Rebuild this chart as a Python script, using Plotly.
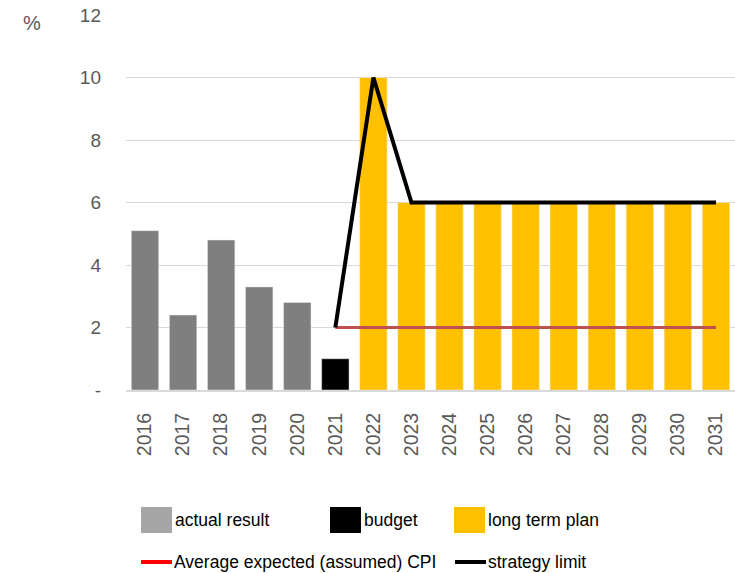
import plotly.graph_objects as go

years = [str(y) for y in range(2016, 2032)]
actual_years = ["2016", "2017", "2018", "2019", "2020"]
actual_values = [5.1, 2.4, 4.8, 3.3, 2.8]
budget_years = ["2021"]
budget_values = [1.0]
plan_years = [str(y) for y in range(2022, 2032)]
plan_values = [10, 6, 6, 6, 6, 6, 6, 6, 6, 6]
cpi_years = [str(y) for y in range(2021, 2032)]
cpi_values = [2] * 11
limit_years = [str(y) for y in range(2021, 2032)]
limit_values = [2, 10, 6, 6, 6, 6, 6, 6, 6, 6, 6]
y_ticks = [0, 2, 4, 6, 8, 10, 12]
y_tick_labels = ["-", "2", "4", "6", "8", "10", "12"]

W, H = 735, 573
ML, MR, MT, MB = 126, 0, 15, 183

fig = go.Figure()
fig.add_trace(go.Bar(x=actual_years, y=actual_values, marker_color="#7F7F7F",
                     width=0.72, name="actual result"))
fig.add_trace(go.Bar(x=budget_years, y=budget_values, marker_color="#000000",
                     width=0.72, name="budget"))
fig.add_trace(go.Bar(x=plan_years, y=plan_values, marker_color="#FFC000",
                     width=0.72, name="long term plan"))
fig.add_trace(go.Scatter(x=cpi_years, y=cpi_values, mode="lines",
                         line=dict(color="#C0504D", width=3),
                         name="Average expected (assumed) CPI"))
fig.add_trace(go.Scatter(x=limit_years, y=limit_values, mode="lines",
                         line=dict(color="#000000", width=4),
                         name="strategy limit"))

fig.update_layout(
    width=W, height=H,
    margin=dict(l=ML, r=MR, t=MT, b=MB),
    plot_bgcolor="white", paper_bgcolor="white",
    showlegend=False, barmode="overlay",
    font=dict(family="Liberation Sans, Arial, sans-serif", size=19, color="#595959"),
    xaxis=dict(type="category", categoryorder="array", categoryarray=years,
               tickangle=-90, showgrid=False, showline=True,
               linecolor="#D9D9D9", linewidth=2, ticks="",
               ticklabelstandoff=13,
               tickfont=dict(size=19.5, color="#595959")),
    yaxis=dict(range=[0, 12], tickvals=y_ticks, ticktext=y_tick_labels,
               showgrid=True, gridcolor="#D9D9D9", gridwidth=1.2,
               zeroline=False, ticks="", ticklabelstandoff=24,
               tickfont=dict(size=19, color="#595959")),
)

def px_x(px):
    return (px - ML) / (W - ML - MR)

def px_y(py):
    return (H - MB - py) / (H - MB - MT)

fig.add_annotation(text="%", xref="paper", yref="paper", x=px_x(32), y=px_y(23),
                   xanchor="center", yanchor="middle", showarrow=False,
                   font=dict(size=20, color="#595959"))

# Custom legend below the chart
legend_font = dict(size=17.5, color="#000000", family="Liberation Sans, Arial, sans-serif")

box_items = [(141, "#A6A6A6", "actual result"),
             (330, "#000000", "budget"),
             (454, "#FFC000", "long term plan")]
for x0, color, label in box_items:
    fig.add_shape(type="rect", xref="paper", yref="paper",
                  x0=px_x(x0), x1=px_x(x0 + 31), y0=px_y(533), y1=px_y(507),
                  fillcolor=color, line_width=0)
    fig.add_annotation(text=label, xref="paper", yref="paper",
                       x=px_x(x0 + 32), y=px_y(520), xanchor="left", yanchor="middle",
                       showarrow=False, font=legend_font)

line_items = [(141, "#FF0000", "Average expected (assumed) CPI"),
              (455, "#000000", "strategy limit")]
for x0, color, label in line_items:
    fig.add_shape(type="line", xref="paper", yref="paper",
                  x0=px_x(x0), x1=px_x(x0 + 31), y0=px_y(562), y1=px_y(562),
                  line=dict(color=color, width=4))
    fig.add_annotation(text=label, xref="paper", yref="paper",
                       x=px_x(x0 + 31), y=px_y(562), xanchor="left", yanchor="middle",
                       showarrow=False, font=legend_font)

fig.write_html("out.html")
